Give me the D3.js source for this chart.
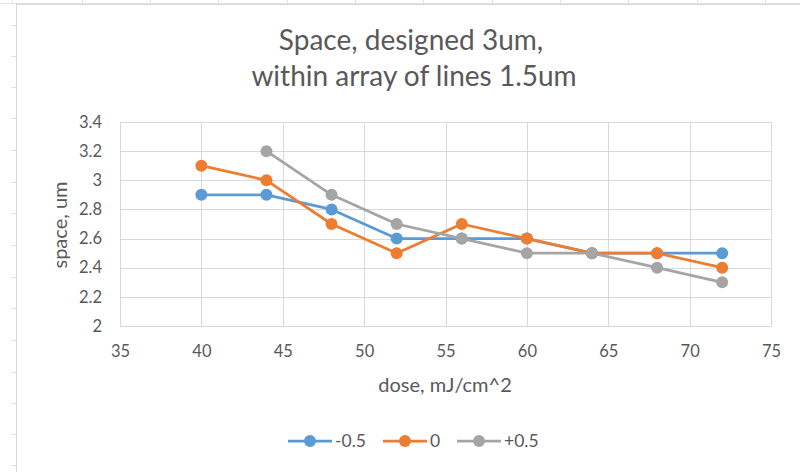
<!DOCTYPE html>
<html><head><meta charset="utf-8">
<script src="https://cdn.jsdelivr.net/npm/d3@7"></script>
<style>body{margin:0;background:#fff;}svg{display:block;}text{font-family:Lato,sans-serif;fill:#595959;}</style>
</head><body><svg id="c" width="800" height="472"></svg>
<script>
const doses = [40, 44, 48, 52, 56, 60, 64, 68, 72];
const seriesNames = ["-0.5", "0", "+0.5"];
const valsMinus = [2.9, 2.9, 2.8, 2.6, 2.6, 2.6, 2.5, 2.5, 2.5];
const valsZero = [3.1, 3.0, 2.7, 2.5, 2.7, 2.6, 2.5, 2.5, 2.4];
const valsPlus = [null, 3.2, 2.9, 2.7, 2.6, 2.5, 2.5, 2.4, 2.3];
const colors = ["#5B9BD5", "#ED7D31", "#A5A5A5"];
const xTicks = [35, 40, 45, 50, 55, 60, 65, 70, 75];
const yTicks = [2, 2.2, 2.4, 2.6, 2.8, 3, 3.2, 3.4];

const svg = d3.select("#c");
// spreadsheet background lines
const sheet = svg.append("g").attr("stroke", "#e2e2e2").attr("stroke-width", 1);
[12, 82, 150, 218, 287, 355, 423, 492, 560, 628, 697, 765].forEach(x =>
  sheet.append("line").attr("x1", x + 0.5).attr("x2", x + 0.5).attr("y1", 0).attr("y2", 4));
sheet.append("line").attr("x1", 0).attr("x2", 800).attr("y1", 3.5).attr("y2", 3.5);
[25, 56, 87, 118, 150, 182, 213, 245, 277, 308, 340, 372, 403, 434, 465].forEach(y =>
  sheet.append("line").attr("x1", 11).attr("x2", 16).attr("y1", y + 0.5).attr("y2", y + 0.5));
// chart area border
svg.append("rect").attr("x", 16.5).attr("y", 4.5).attr("width", 800).attr("height", 480)
  .attr("fill", "#fff").attr("stroke", "#d9d9d9");

const x = d3.scaleLinear().domain([35, 75]).range([120, 771]);
const y = d3.scaleLinear().domain([2, 3.4]).range([326, 122]);

// grid
const g = svg.append("g");
g.append("g").selectAll("line").data(yTicks).join("line")
  .attr("x1", 120).attr("x2", 771).attr("y1", d => Math.round(y(d)) + 0.5).attr("y2", d => Math.round(y(d)) + 0.5)
  .attr("stroke", "#d9d9d9").attr("stroke-width", 1);
g.append("g").selectAll("line").data(xTicks).join("line")
  .attr("y1", 122).attr("y2", 326).attr("x1", d => Math.round(x(d)) + 0.5).attr("x2", d => Math.round(x(d)) + 0.5)
  .attr("stroke", "#d9d9d9").attr("stroke-width", 1);

// axes labels via d3 axes
const xa = svg.append("g").attr("transform", "translate(0,326)")
  .call(d3.axisBottom(x).tickValues(xTicks).tickSize(0).tickPadding(19).tickFormat(d3.format("d")));
const ya = svg.append("g").attr("transform", "translate(120,0)")
  .call(d3.axisLeft(y).tickValues(yTicks).tickSize(0).tickPadding(18).tickFormat(d => String(d)));
[xa, ya].forEach(a => { a.select(".domain").remove(); a.selectAll("text").style("font-size", "16.5px").attr("fill", "#595959").style("font-family", "Lato,sans-serif"); });

// titles
svg.append("text").attr("x", 411).attr("y", 50).attr("text-anchor", "middle").style("font-size", "28px").text("Space, designed 3um,");
svg.append("text").attr("x", 414).attr("y", 86).attr("text-anchor", "middle").style("font-size", "28px").text("within array of lines 1.5um");
svg.append("text").attr("x", 445).attr("y", 392).attr("text-anchor", "middle").style("font-size", "20px").text("dose, mJ/cm^2");
svg.append("text").attr("transform", "translate(67,225) rotate(-90)").attr("text-anchor", "middle").style("font-size", "20px").text("space, um");

// series
const allVals = [valsMinus, valsZero, valsPlus];
const line = d3.line().defined(d => d[1] != null).x(d => x(d[0])).y(d => y(d[1]));
allVals.forEach((vals, i) => {
  const pts = doses.map((d, j) => [d, vals[j]]);
  svg.append("path").datum(pts).attr("d", line).attr("fill", "none")
    .attr("stroke", colors[i]).attr("stroke-width", 2.75).attr("stroke-linejoin", "round");
  svg.append("g").selectAll("circle").data(pts.filter(p => p[1] != null)).join("circle")
    .attr("cx", p => x(p[0])).attr("cy", p => y(p[1])).attr("r", 6).attr("fill", colors[i]);
});

// legend
const legX = [288, 383, 457];
seriesNames.forEach((n, i) => {
  const lg = svg.append("g").attr("transform", `translate(${legX[i]},441)`);
  lg.append("line").attr("x1", 0).attr("x2", 44).attr("y1", 0).attr("y2", 0).attr("stroke", colors[i]).attr("stroke-width", 2.75);
  lg.append("circle").attr("cx", 22).attr("cy", 0).attr("r", 6).attr("fill", colors[i]);
  lg.append("text").attr("x", 47).attr("y", 6).style("font-size", "17.5px").text(n);
});
</script></body></html>
